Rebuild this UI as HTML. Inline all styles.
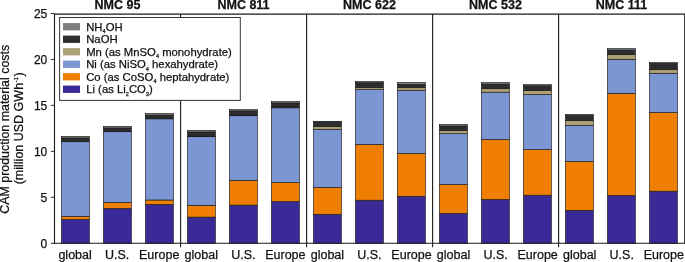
<!DOCTYPE html>
<html><head><meta charset="utf-8"><title>CAM production material costs</title>
<style>
html,body{margin:0;padding:0;background:#fff;}
body{width:685px;height:262px;overflow:hidden;}
svg{display:block;font-family:"Liberation Sans",Arial,Helvetica,sans-serif;}
text{fill:#111;stroke:#111;stroke-width:0.25px;}
.t{font-size:12.5px;}
.b{font-size:12.5px;font-weight:bold;}
.l{font-size:11.3px;}
.s{font-size:5.6px;}
</style></head><body>
<svg width="685" height="262" viewBox="0 0 685 262">
<rect x="0" y="0" width="685" height="262" fill="#fff"/>

<rect x="61.40" y="219.40" width="28" height="23.90" fill="#3a2a98" stroke="#1c1c1c" stroke-width="0.65"/>
<rect x="61.40" y="216.40" width="28" height="3.00" fill="#f07e00" stroke="#1c1c1c" stroke-width="0.65"/>
<rect x="61.40" y="141.70" width="28" height="74.70" fill="#7b96d2" stroke="#1c1c1c" stroke-width="0.65"/>
<rect x="61.40" y="141.60" width="28" height="0.10" fill="#ada074" stroke="#1c1c1c" stroke-width="0.65"/>
<rect x="61.40" y="138.00" width="28" height="3.60" fill="#2d2d2d" stroke="#1c1c1c" stroke-width="0.65"/>
<rect x="61.40" y="136.40" width="28" height="1.60" fill="#808080" stroke="#1c1c1c" stroke-width="0.65"/>
<rect x="103.40" y="208.40" width="28" height="34.90" fill="#3a2a98" stroke="#1c1c1c" stroke-width="0.65"/>
<rect x="103.40" y="202.30" width="28" height="6.10" fill="#f07e00" stroke="#1c1c1c" stroke-width="0.65"/>
<rect x="103.40" y="131.70" width="28" height="70.60" fill="#7b96d2" stroke="#1c1c1c" stroke-width="0.65"/>
<rect x="103.40" y="131.60" width="28" height="0.10" fill="#ada074" stroke="#1c1c1c" stroke-width="0.65"/>
<rect x="103.40" y="128.00" width="28" height="3.60" fill="#2d2d2d" stroke="#1c1c1c" stroke-width="0.65"/>
<rect x="103.40" y="126.40" width="28" height="1.60" fill="#808080" stroke="#1c1c1c" stroke-width="0.65"/>
<rect x="145.40" y="204.50" width="28" height="38.80" fill="#3a2a98" stroke="#1c1c1c" stroke-width="0.65"/>
<rect x="145.40" y="200.00" width="28" height="4.50" fill="#f07e00" stroke="#1c1c1c" stroke-width="0.65"/>
<rect x="145.40" y="118.80" width="28" height="81.20" fill="#7b96d2" stroke="#1c1c1c" stroke-width="0.65"/>
<rect x="145.40" y="118.70" width="28" height="0.10" fill="#ada074" stroke="#1c1c1c" stroke-width="0.65"/>
<rect x="145.40" y="115.10" width="28" height="3.60" fill="#2d2d2d" stroke="#1c1c1c" stroke-width="0.65"/>
<rect x="145.40" y="113.60" width="28" height="1.50" fill="#808080" stroke="#1c1c1c" stroke-width="0.65"/>
<rect x="187.40" y="217.10" width="28" height="26.20" fill="#3a2a98" stroke="#1c1c1c" stroke-width="0.65"/>
<rect x="187.40" y="205.30" width="28" height="11.80" fill="#f07e00" stroke="#1c1c1c" stroke-width="0.65"/>
<rect x="187.40" y="136.70" width="28" height="68.60" fill="#7b96d2" stroke="#1c1c1c" stroke-width="0.65"/>
<rect x="187.40" y="136.30" width="28" height="0.40" fill="#ada074" stroke="#1c1c1c" stroke-width="0.65"/>
<rect x="187.40" y="132.00" width="28" height="4.30" fill="#2d2d2d" stroke="#1c1c1c" stroke-width="0.65"/>
<rect x="187.40" y="130.40" width="28" height="1.60" fill="#808080" stroke="#1c1c1c" stroke-width="0.65"/>
<rect x="229.40" y="205.10" width="28" height="38.20" fill="#3a2a98" stroke="#1c1c1c" stroke-width="0.65"/>
<rect x="229.40" y="180.30" width="28" height="24.80" fill="#f07e00" stroke="#1c1c1c" stroke-width="0.65"/>
<rect x="229.40" y="115.70" width="28" height="64.60" fill="#7b96d2" stroke="#1c1c1c" stroke-width="0.65"/>
<rect x="229.40" y="115.20" width="28" height="0.50" fill="#ada074" stroke="#1c1c1c" stroke-width="0.65"/>
<rect x="229.40" y="110.90" width="28" height="4.30" fill="#2d2d2d" stroke="#1c1c1c" stroke-width="0.65"/>
<rect x="229.40" y="109.60" width="28" height="1.30" fill="#808080" stroke="#1c1c1c" stroke-width="0.65"/>
<rect x="271.40" y="201.50" width="28" height="41.80" fill="#3a2a98" stroke="#1c1c1c" stroke-width="0.65"/>
<rect x="271.40" y="182.60" width="28" height="18.90" fill="#f07e00" stroke="#1c1c1c" stroke-width="0.65"/>
<rect x="271.40" y="107.80" width="28" height="74.80" fill="#7b96d2" stroke="#1c1c1c" stroke-width="0.65"/>
<rect x="271.40" y="107.00" width="28" height="0.80" fill="#ada074" stroke="#1c1c1c" stroke-width="0.65"/>
<rect x="271.40" y="103.00" width="28" height="4.00" fill="#2d2d2d" stroke="#1c1c1c" stroke-width="0.65"/>
<rect x="271.40" y="101.60" width="28" height="1.40" fill="#808080" stroke="#1c1c1c" stroke-width="0.65"/>
<rect x="313.40" y="214.30" width="28" height="29.00" fill="#3a2a98" stroke="#1c1c1c" stroke-width="0.65"/>
<rect x="313.40" y="187.40" width="28" height="26.90" fill="#f07e00" stroke="#1c1c1c" stroke-width="0.65"/>
<rect x="313.40" y="129.30" width="28" height="58.10" fill="#7b96d2" stroke="#1c1c1c" stroke-width="0.65"/>
<rect x="313.40" y="126.60" width="28" height="2.70" fill="#ada074" stroke="#1c1c1c" stroke-width="0.65"/>
<rect x="313.40" y="121.60" width="28" height="5.00" fill="#2d2d2d" stroke="#1c1c1c" stroke-width="0.65"/>
<rect x="313.40" y="121.30" width="28" height="0.30" fill="#808080" stroke="#1c1c1c" stroke-width="0.65"/>
<rect x="355.40" y="200.20" width="28" height="43.10" fill="#3a2a98" stroke="#1c1c1c" stroke-width="0.65"/>
<rect x="355.40" y="144.40" width="28" height="55.80" fill="#f07e00" stroke="#1c1c1c" stroke-width="0.65"/>
<rect x="355.40" y="89.60" width="28" height="54.80" fill="#7b96d2" stroke="#1c1c1c" stroke-width="0.65"/>
<rect x="355.40" y="87.70" width="28" height="1.90" fill="#ada074" stroke="#1c1c1c" stroke-width="0.65"/>
<rect x="355.40" y="82.70" width="28" height="5.00" fill="#2d2d2d" stroke="#1c1c1c" stroke-width="0.65"/>
<rect x="355.40" y="81.60" width="28" height="1.10" fill="#808080" stroke="#1c1c1c" stroke-width="0.65"/>
<rect x="397.40" y="196.30" width="28" height="47.00" fill="#3a2a98" stroke="#1c1c1c" stroke-width="0.65"/>
<rect x="397.40" y="153.40" width="28" height="42.90" fill="#f07e00" stroke="#1c1c1c" stroke-width="0.65"/>
<rect x="397.40" y="90.40" width="28" height="63.00" fill="#7b96d2" stroke="#1c1c1c" stroke-width="0.65"/>
<rect x="397.40" y="87.70" width="28" height="2.70" fill="#ada074" stroke="#1c1c1c" stroke-width="0.65"/>
<rect x="397.40" y="84.30" width="28" height="3.40" fill="#2d2d2d" stroke="#1c1c1c" stroke-width="0.65"/>
<rect x="397.40" y="82.50" width="28" height="1.80" fill="#808080" stroke="#1c1c1c" stroke-width="0.65"/>
<rect x="439.40" y="213.50" width="28" height="29.80" fill="#3a2a98" stroke="#1c1c1c" stroke-width="0.65"/>
<rect x="439.40" y="184.30" width="28" height="29.20" fill="#f07e00" stroke="#1c1c1c" stroke-width="0.65"/>
<rect x="439.40" y="133.70" width="28" height="50.60" fill="#7b96d2" stroke="#1c1c1c" stroke-width="0.65"/>
<rect x="439.40" y="130.60" width="28" height="3.10" fill="#ada074" stroke="#1c1c1c" stroke-width="0.65"/>
<rect x="439.40" y="126.00" width="28" height="4.60" fill="#2d2d2d" stroke="#1c1c1c" stroke-width="0.65"/>
<rect x="439.40" y="124.50" width="28" height="1.50" fill="#808080" stroke="#1c1c1c" stroke-width="0.65"/>
<rect x="481.40" y="199.40" width="28" height="43.90" fill="#3a2a98" stroke="#1c1c1c" stroke-width="0.65"/>
<rect x="481.40" y="139.50" width="28" height="59.90" fill="#f07e00" stroke="#1c1c1c" stroke-width="0.65"/>
<rect x="481.40" y="92.20" width="28" height="47.30" fill="#7b96d2" stroke="#1c1c1c" stroke-width="0.65"/>
<rect x="481.40" y="88.70" width="28" height="3.50" fill="#ada074" stroke="#1c1c1c" stroke-width="0.65"/>
<rect x="481.40" y="84.10" width="28" height="4.60" fill="#2d2d2d" stroke="#1c1c1c" stroke-width="0.65"/>
<rect x="481.40" y="82.60" width="28" height="1.50" fill="#808080" stroke="#1c1c1c" stroke-width="0.65"/>
<rect x="523.40" y="195.20" width="28" height="48.10" fill="#3a2a98" stroke="#1c1c1c" stroke-width="0.65"/>
<rect x="523.40" y="149.60" width="28" height="45.60" fill="#f07e00" stroke="#1c1c1c" stroke-width="0.65"/>
<rect x="523.40" y="94.40" width="28" height="55.20" fill="#7b96d2" stroke="#1c1c1c" stroke-width="0.65"/>
<rect x="523.40" y="90.60" width="28" height="3.80" fill="#ada074" stroke="#1c1c1c" stroke-width="0.65"/>
<rect x="523.40" y="85.80" width="28" height="4.80" fill="#2d2d2d" stroke="#1c1c1c" stroke-width="0.65"/>
<rect x="523.40" y="84.60" width="28" height="1.20" fill="#808080" stroke="#1c1c1c" stroke-width="0.65"/>
<rect x="565.40" y="210.30" width="28" height="33.00" fill="#3a2a98" stroke="#1c1c1c" stroke-width="0.65"/>
<rect x="565.40" y="161.50" width="28" height="48.80" fill="#f07e00" stroke="#1c1c1c" stroke-width="0.65"/>
<rect x="565.40" y="125.40" width="28" height="36.10" fill="#7b96d2" stroke="#1c1c1c" stroke-width="0.65"/>
<rect x="565.40" y="120.60" width="28" height="4.80" fill="#ada074" stroke="#1c1c1c" stroke-width="0.65"/>
<rect x="565.40" y="115.30" width="28" height="5.30" fill="#2d2d2d" stroke="#1c1c1c" stroke-width="0.65"/>
<rect x="565.40" y="114.50" width="28" height="0.80" fill="#808080" stroke="#1c1c1c" stroke-width="0.65"/>
<rect x="607.40" y="195.50" width="28" height="47.80" fill="#3a2a98" stroke="#1c1c1c" stroke-width="0.65"/>
<rect x="607.40" y="93.30" width="28" height="102.20" fill="#f07e00" stroke="#1c1c1c" stroke-width="0.65"/>
<rect x="607.40" y="59.30" width="28" height="34.00" fill="#7b96d2" stroke="#1c1c1c" stroke-width="0.65"/>
<rect x="607.40" y="54.60" width="28" height="4.70" fill="#ada074" stroke="#1c1c1c" stroke-width="0.65"/>
<rect x="607.40" y="50.10" width="28" height="4.50" fill="#2d2d2d" stroke="#1c1c1c" stroke-width="0.65"/>
<rect x="607.40" y="48.60" width="28" height="1.50" fill="#808080" stroke="#1c1c1c" stroke-width="0.65"/>
<rect x="649.40" y="191.20" width="28" height="52.10" fill="#3a2a98" stroke="#1c1c1c" stroke-width="0.65"/>
<rect x="649.40" y="112.50" width="28" height="78.70" fill="#f07e00" stroke="#1c1c1c" stroke-width="0.65"/>
<rect x="649.40" y="73.30" width="28" height="39.20" fill="#7b96d2" stroke="#1c1c1c" stroke-width="0.65"/>
<rect x="649.40" y="69.70" width="28" height="3.60" fill="#ada074" stroke="#1c1c1c" stroke-width="0.65"/>
<rect x="649.40" y="63.40" width="28" height="6.30" fill="#2d2d2d" stroke="#1c1c1c" stroke-width="0.65"/>
<rect x="649.40" y="62.60" width="28" height="0.80" fill="#808080" stroke="#1c1c1c" stroke-width="0.65"/>
<g stroke="#1a1a1a" stroke-width="1.1" fill="none">
<line x1="54.50" y1="13.55" x2="54.50" y2="243.85"/>
<line x1="684.70" y1="13.55" x2="684.70" y2="243.85"/>
<line x1="54.50" y1="14.10" x2="684.50" y2="14.10"/>
<line x1="54.50" y1="243.30" x2="684.50" y2="243.30"/>
<line x1="180.60" y1="14.10" x2="180.60" y2="247.30"/>
<line x1="306.60" y1="14.10" x2="306.60" y2="247.30"/>
<line x1="432.60" y1="14.10" x2="432.60" y2="247.30"/>
<line x1="558.60" y1="14.10" x2="558.60" y2="247.30"/>
<line x1="50.90" y1="243.30" x2="54.50" y2="243.30" stroke-width="0.9"/>
<line x1="50.90" y1="197.34" x2="54.50" y2="197.34" stroke-width="0.9"/>
<line x1="50.90" y1="151.38" x2="54.50" y2="151.38" stroke-width="0.9"/>
<line x1="50.90" y1="105.42" x2="54.50" y2="105.42" stroke-width="0.9"/>
<line x1="50.90" y1="59.46" x2="54.50" y2="59.46" stroke-width="0.9"/>
<line x1="50.90" y1="13.50" x2="54.50" y2="13.50" stroke-width="0.9"/>
</g>
<text class="t" style="font-size:12px" x="47.3" y="247.60" text-anchor="end">0</text>
<text class="t" style="font-size:12px" x="47.3" y="201.64" text-anchor="end">5</text>
<text class="t" style="font-size:12px" x="47.3" y="155.68" text-anchor="end">10</text>
<text class="t" style="font-size:12px" x="47.3" y="109.72" text-anchor="end">15</text>
<text class="t" style="font-size:12px" x="47.3" y="63.76" text-anchor="end">20</text>
<text class="t" style="font-size:12px" x="47.3" y="17.80" text-anchor="end">25</text>
<text class="t" x="75.10" y="259.1" text-anchor="middle">global</text>
<text class="t" x="117.15" y="259.1" text-anchor="middle">U.S.</text>
<text class="t" x="159.20" y="259.1" text-anchor="middle">Europe</text>
<text class="t" x="201.25" y="259.1" text-anchor="middle">global</text>
<text class="t" x="243.30" y="259.1" text-anchor="middle">U.S.</text>
<text class="t" x="285.35" y="259.1" text-anchor="middle">Europe</text>
<text class="t" x="327.40" y="259.1" text-anchor="middle">global</text>
<text class="t" x="369.45" y="259.1" text-anchor="middle">U.S.</text>
<text class="t" x="411.50" y="259.1" text-anchor="middle">Europe</text>
<text class="t" x="453.55" y="259.1" text-anchor="middle">global</text>
<text class="t" x="495.60" y="259.1" text-anchor="middle">U.S.</text>
<text class="t" x="537.65" y="259.1" text-anchor="middle">Europe</text>
<text class="t" x="579.70" y="259.1" text-anchor="middle">global</text>
<text class="t" x="621.75" y="259.1" text-anchor="middle">U.S.</text>
<text class="t" x="663.80" y="259.1" text-anchor="middle">Europe</text>
<text class="b" x="117.50" y="8.9" text-anchor="middle">NMC 95</text>
<text class="b" x="243.50" y="8.9" text-anchor="middle">NMC 811</text>
<text class="b" x="369.50" y="8.9" text-anchor="middle">NMC 622</text>
<text class="b" x="495.50" y="8.9" text-anchor="middle">NMC 532</text>
<text class="b" x="621.50" y="8.9" text-anchor="middle">NMC 111</text>
<text class="t" style="font-size:12.42px" transform="translate(9.1,213.75) rotate(-90)">CAM production material costs</text>
<text class="t" transform="translate(23.3,184.3) rotate(-90)">(million USD GWh<tspan class="s" dy="-5.6" dx="0.7">-1</tspan><tspan dy="5.6" dx="0.7">)</tspan></text>
<rect x="59.6" y="17.5" width="180.7" height="82.9" fill="#fff" stroke="#333" stroke-width="1"/>
<rect x="63" y="23.10" width="17" height="7.3" fill="#808080"/>
<text class="l" x="86.2" y="30.80">NH<tspan class="s" dy="2.5">4</tspan><tspan dy="-2.5">OH</tspan></text>
<rect x="63" y="35.60" width="17" height="7.3" fill="#2d2d2d"/>
<text class="l" x="86.2" y="43.30">NaOH</text>
<rect x="63" y="48.10" width="17" height="7.3" fill="#ada074"/>
<text class="l" x="86.2" y="55.80">Mn (as MnSO<tspan class="s" dy="2.5">4</tspan><tspan dy="-2.5"> monohydrate)</tspan></text>
<rect x="63" y="60.60" width="17" height="7.3" fill="#7b96d2"/>
<text class="l" x="86.2" y="68.30">Ni (as NiSO<tspan class="s" dy="2.5">4</tspan><tspan dy="-2.5"> hexahydrate)</tspan></text>
<rect x="63" y="73.10" width="17" height="7.3" fill="#f07e00"/>
<text class="l" x="86.2" y="80.80">Co (as CoSO<tspan class="s" dy="2.5">4</tspan><tspan dy="-2.5"> heptahydrate)</tspan></text>
<rect x="63" y="85.60" width="17" height="7.3" fill="#3a2a98"/>
<text class="l" x="86.2" y="93.30">Li (as Li<tspan class="s" dy="2.5">2</tspan><tspan dy="-2.5">CO</tspan><tspan class="s" dy="2.5">3</tspan><tspan dy="-2.5">)</tspan></text>
</svg></body></html>
